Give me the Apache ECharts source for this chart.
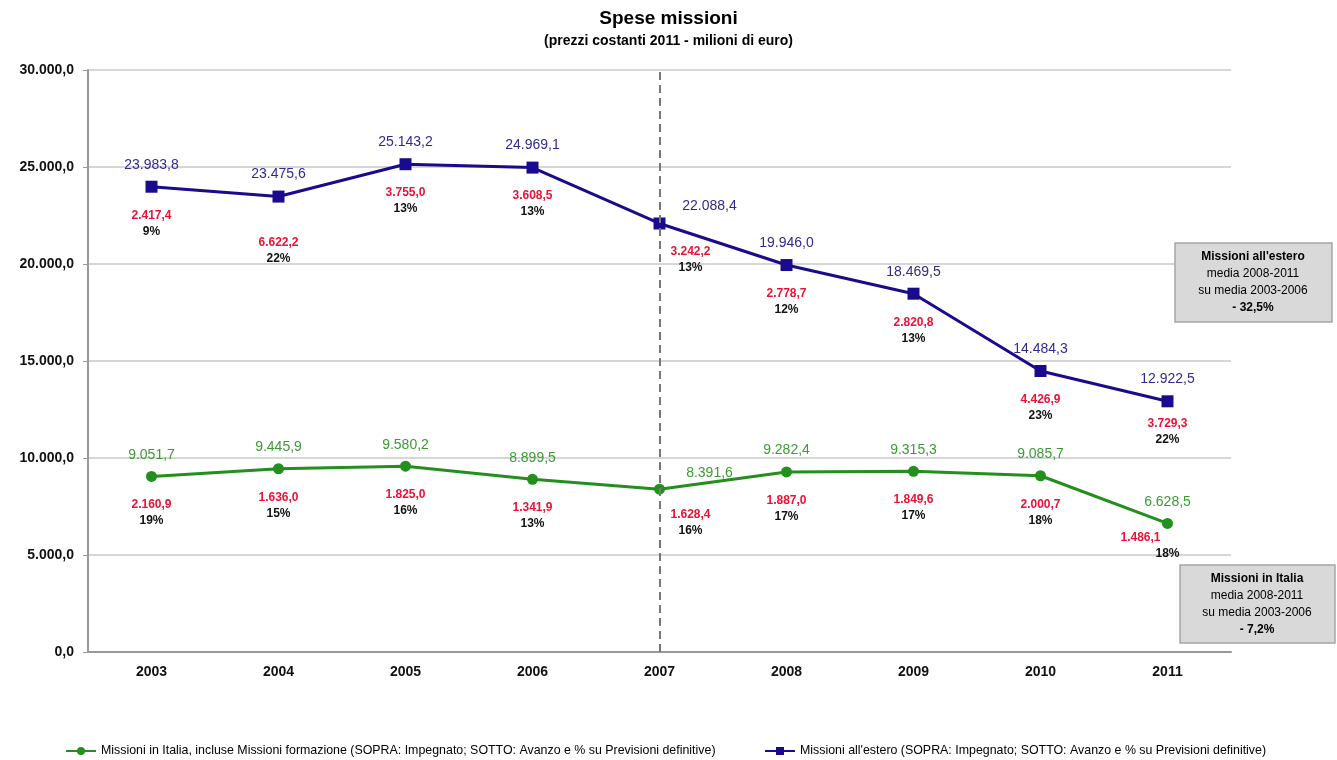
<!DOCTYPE html>
<html>
<head>
<meta charset="utf-8">
<script src="https://cdn.jsdelivr.net/npm/echarts@6/dist/echarts.min.js"></script>
<style>
  html, body { margin: 0; padding: 0; background: #fff; }
  #chart { width: 1337px; height: 760px; }
</style>
</head>
<body>
<div id="chart"></div>
<script>
// Data
const years = ['2003', '2004', '2005', '2006', '2007', '2008', '2009', '2010', '2011'];
const esteroImpegnato = [23983.8, 23475.6, 25143.2, 24969.1, 22088.4, 19946.0, 18469.5, 14484.3, 12922.5];
const esteroAvanzo = [2417.4, 6622.2, 3755.0, 3608.5, 3242.2, 2778.7, 2820.8, 4426.9, 3729.3];
const esteroPerc = [9, 22, 13, 13, 13, 12, 13, 23, 22];
const italiaImpegnato = [9051.7, 9445.9, 9580.2, 8899.5, 8391.6, 9282.4, 9315.3, 9085.7, 6628.5];
const italiaAvanzo = [2160.9, 1636.0, 1825.0, 1341.9, 1628.4, 1887.0, 1849.6, 2000.7, 1486.1];
const italiaPerc = [19, 15, 16, 13, 16, 17, 17, 18, 18];

const nameItalia = 'Missioni in Italia, incluse Missioni formazione (SOPRA: Impegnato; SOTTO: Avanzo e % su Previsioni definitive)';
const nameEstero = "Missioni all'estero (SOPRA: Impegnato; SOTTO: Avanzo e % su Previsioni definitive)";

const FONT = '"Liberation Sans", Arial, sans-serif';
const BLUE = '#1a0a8e';
const BLUE_TXT = '#2f2a8e';
const GREEN = '#238f1c';
const GREEN_TXT = '#3c9a34';
const RED = '#ee1133';

// Italian number format: 23.983,8
function fmt(v, dec) {
  const parts = v.toFixed(dec).split('.');
  const int = parts[0].replace(/\B(?=(\d{3})+(?!\d))/g, '.');
  return parts.length > 1 ? int + ',' + parts[1] : int;
}

// label nudges (Excel placed some labels by hand)
const topShift = { 4: [50, 5] };
const bottomShiftEstero = { 1: [0, 18], 4: [31, 0], 8: [0, -6] };
const bottomShiftItalia = { 4: [31, -3], 8: [0, -14] };

function topData(values) {
  return values.map((v, i) => {
    const item = { value: v };
    if (topShift[i]) item.label = { offset: topShift[i] };
    return item;
  });
}

function bottomData(values, avanzo, perc, shifts, leftShiftIdx) {
  return values.map((v, i) => {
    const item = { value: v, avanzo: avanzo[i], perc: perc[i] };
    const lbl = {};
    if (shifts[i]) lbl.offset = shifts[i];
    if (i === leftShiftIdx) {
      lbl.formatter = p => '{rl|' + fmt(avanzo[i], 1) + '}\n{p|' + perc[i] + '%}';
    }
    item.label = lbl;
    return item;
  });
}

const bottomRich = {
  r: { color: RED, fontWeight: 'bold', fontSize: 12, fontFamily: FONT, lineHeight: 16 },
  rl: { color: RED, fontWeight: 'bold', fontSize: 12, fontFamily: FONT, lineHeight: 16, padding: [0, 54, 0, 0] },
  p: { color: '#111', fontWeight: 'bold', fontSize: 12, fontFamily: FONT, lineHeight: 16 }
};

function bottomSeries(values, avanzo, perc, shifts, leftShiftIdx) {
  return {
    type: 'line',
    name: 'below-' + values[0],
    data: bottomData(values, avanzo, perc, shifts, leftShiftIdx),
    symbol: 'circle',
    symbolSize: 1,
    silent: true,
    z: 1,
    itemStyle: { color: 'rgba(0,0,0,0)' },
    lineStyle: { width: 0, opacity: 0 },
    label: {
      show: true,
      position: 'bottom',
      distance: 20,
      formatter: p => '{r|' + fmt(p.data.avanzo, 1) + '}\n{p|' + p.data.perc + '%}',
      rich: bottomRich
    }
  };
}

const chart = echarts.init(document.getElementById('chart'));

const option = {
  animation: false,
  backgroundColor: '#fff',
  textStyle: { fontFamily: FONT },
  title: {
    text: 'Spese missioni',
    subtext: '(prezzi costanti 2011 - milioni di euro)',
    left: 'center',
    top: 4,
    itemGap: 6,
    textStyle: { fontSize: 19, fontWeight: 'bold', color: '#000', fontFamily: FONT },
    subtextStyle: { fontSize: 14, fontWeight: 'bold', color: '#000', fontFamily: FONT }
  },
  legend: [
    {
      data: [nameItalia],
      left: 60,
      top: 740,
      itemWidth: 30,
      itemHeight: 10,
      textStyle: { fontSize: 12.4, color: '#000', fontFamily: FONT }
    },
    {
      data: [nameEstero],
      left: 759,
      top: 740,
      itemWidth: 30,
      itemHeight: 10,
      textStyle: { fontSize: 12.4, color: '#000', fontFamily: FONT }
    }
  ],
  grid: { left: 88, right: 106, top: 70, bottom: 108 },
  xAxis: {
    type: 'category',
    data: years,
    boundaryGap: true,
    axisLine: { lineStyle: { color: '#999', width: 2 } },
    axisTick: { inside: true, length: 4, alignWithLabel: true, lineStyle: { color: '#999' } },
    axisLabel: { fontSize: 14, fontWeight: 'bold', color: '#111', margin: 13, fontFamily: FONT }
  },
  yAxis: {
    type: 'value',
    min: 0,
    max: 30000,
    interval: 5000,
    axisLine: { show: true, lineStyle: { color: '#999', width: 2 } },
    axisTick: { show: true, length: 5, lineStyle: { color: '#999' } },
    axisLabel: {
      fontSize: 14, fontWeight: 'bold', color: '#111', margin: 14, fontFamily: FONT,
      formatter: v => fmt(v, 1)
    },
    splitLine: { lineStyle: { color: '#c8c8c8', width: 1.5 } }
  },
  series: [
    {
      name: nameItalia,
      type: 'line',
      data: topData(italiaImpegnato),
      symbol: 'circle',
      symbolSize: 11,
      z: 3,
      itemStyle: { color: GREEN },
      lineStyle: { color: GREEN, width: 3 },
      label: {
        show: true,
        position: 'top',
        distance: 9,
        fontSize: 14,
        color: GREEN_TXT,
        fontFamily: FONT,
        formatter: p => fmt(p.value, 1)
      },
      markLine: {
        silent: true,
        symbol: 'none',
        label: { show: false },
        lineStyle: { color: '#777', type: [8, 5], width: 2 },
        data: [{ xAxis: '2007' }]
      }
    },
    {
      name: nameEstero,
      type: 'line',
      data: topData(esteroImpegnato),
      symbol: 'rect',
      symbolSize: 12,
      z: 3,
      itemStyle: { color: BLUE },
      lineStyle: { color: BLUE, width: 3 },
      label: {
        show: true,
        position: 'top',
        distance: 9,
        fontSize: 14,
        color: BLUE_TXT,
        fontFamily: FONT,
        formatter: p => fmt(p.value, 1)
      }
    },
    bottomSeries(italiaImpegnato, italiaAvanzo, italiaPerc, bottomShiftItalia, 8),
    bottomSeries(esteroImpegnato, esteroAvanzo, esteroPerc, bottomShiftEstero, -1)
  ],
  graphic: [
    {
      type: 'rect',
      shape: { x: 1175, y: 243, width: 157, height: 79 },
      style: { fill: '#d9d9d9', stroke: '#a6a6a6', lineWidth: 1.5 },
      z: 10
    },
    {
      type: 'text',
      x: 1253,
      y: 248,
      z: 11,
      style: {
        text: "{b|Missioni all'estero}\n{n|media 2008-2011}\n{n|su media 2003-2006}\n{b|- 32,5%}",
        align: 'center',
        rich: {
          b: { fontSize: 12, fontWeight: 'bold', fontFamily: FONT, color: '#000', lineHeight: 17 },
          n: { fontSize: 12, fontFamily: FONT, color: '#000', lineHeight: 17 }
        }
      }
    },
    {
      type: 'rect',
      shape: { x: 1180, y: 565, width: 155, height: 78 },
      style: { fill: '#d9d9d9', stroke: '#a6a6a6', lineWidth: 1.5 },
      z: 10
    },
    {
      type: 'text',
      x: 1257,
      y: 570,
      z: 11,
      style: {
        text: '{b|Missioni in Italia}\n{n|media 2008-2011}\n{n|su media 2003-2006}\n{b|- 7,2%}',
        align: 'center',
        rich: {
          b: { fontSize: 12, fontWeight: 'bold', fontFamily: FONT, color: '#000', lineHeight: 17 },
          n: { fontSize: 12, fontFamily: FONT, color: '#000', lineHeight: 17 }
        }
      }
    }
  ]
};

chart.setOption(option);
</script>
</body>
</html>
